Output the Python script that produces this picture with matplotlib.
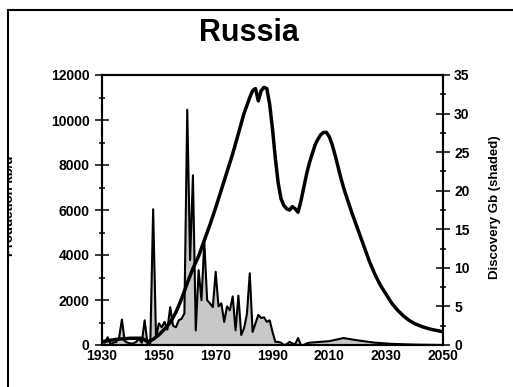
import numpy as np
import matplotlib
matplotlib.use("Agg")
import matplotlib.pyplot as plt
from matplotlib.patches import Rectangle
from matplotlib.ticker import MultipleLocator

plt.rcParams['font.family'] = ['Liberation Sans', 'DejaVu Sans']
plt.rcParams['font.weight'] = 'bold'

# production, kb/d (left axis)
prod_years = [1930, 1935, 1940, 1944, 1946, 1948, 1950, 1952, 1954, 1956, 1958,
              1960, 1962, 1964, 1966, 1968, 1970, 1972, 1974, 1976, 1978, 1980,
              1982, 1983, 1984, 1985, 1986, 1987, 1988, 1989, 1990, 1991, 1992,
              1993, 1994, 1995, 1996, 1997, 1998, 1999, 2000, 2001, 2002, 2003,
              2004, 2005, 2006, 2007, 2008, 2009, 2010, 2011, 2012, 2013, 2014,
              2015, 2016, 2018, 2020, 2022, 2024, 2026, 2028, 2030, 2032, 2034,
              2036, 2038, 2040, 2043, 2046, 2050]
prod_kbd = [150, 250, 300, 300, 150, 250, 450, 700, 1000, 1450, 2050,
            2750, 3400, 3950, 4650, 5350, 6100, 6900, 7700, 8500, 9400, 10300,
            11000, 11300, 11400, 10850, 11300, 11450, 11400, 10700, 9600, 8300, 7200,
            6500, 6200, 6050, 6000, 6150, 6050, 5900, 6400, 7000, 7600, 8100,
            8500, 8900, 9150, 9350, 9450, 9450, 9250, 8900, 8450, 7950, 7450,
            7000, 6600, 5850, 5150, 4450, 3750, 3150, 2650, 2250, 1850, 1550,
            1300, 1100, 950, 800, 690, 590]

# discoveries, Gb (right axis, shaded)
disc_years = list(range(1930, 2004)) + [2010, 2015, 2020, 2026, 2032, 2040, 2050]
disc_gb = [0.4, 0.3, 1.0, 0.1, 0.3, 0.4, 0.9, 3.3, 0.5, 0.3,
           0.2, 0.2, 0.4, 0.8, 0.3, 3.2, 0.2, 0.2, 17.6, 1.0,
           2.8, 2.3, 3.0, 2.0, 4.9, 2.5, 2.3, 3.2, 3.4, 4.1,
           30.5, 11.0, 22.0, 1.9, 9.7, 5.8, 13.4, 5.8, 5.4, 4.9,
           9.5, 5.0, 5.4, 3.0, 5.0, 4.5, 6.3, 1.9, 6.4, 1.3,
           2.2, 4.0, 9.3, 1.7, 2.8, 3.9, 3.5, 3.6, 3.0, 3.2,
           1.7, 0.4, 0.4, 0.3, 0.0, 0.1, 0.4, 0.2, 0.1, 0.9,
           0.0, 0.0, 0.2, 0.3,
           0.5, 0.9, 0.6, 0.3, 0.15, 0.05, 0.0]

x_ticks = [1930, 1950, 1970, 1990, 2010, 2030, 2050]

W, H = 513, 387
fig = plt.figure(figsize=(W / 100, H / 100), dpi=100)

ax1 = fig.add_axes([102 / W, 1 - 345 / H, 341 / W, 270 / H])
ax2 = ax1.twinx()
ax1.set_zorder(ax2.get_zorder() + 1)
ax1.patch.set_visible(False)

ax2.fill_between(disc_years, disc_gb, 0, color='#c8c8c8', lw=0)
ax2.plot(disc_years, disc_gb, color='black', lw=1.5)
ax1.plot(prod_years, prod_kbd, color='black', lw=2.5, solid_joinstyle='round')

ax1.set_xlim(1930, 2050)
ax1.set_ylim(0, 12000)
ax2.set_ylim(0, 35)
ax1.set_xticks(x_ticks)
ax1.yaxis.set_major_locator(MultipleLocator(2000))
ax1.yaxis.set_minor_locator(MultipleLocator(1000))
ax2.yaxis.set_major_locator(MultipleLocator(5))
ax2.yaxis.set_minor_locator(MultipleLocator(2.5))

for a in (ax1, ax2):
    for s in a.spines.values():
        s.set_linewidth(1.5)
ax1.tick_params(axis='x', length=0, pad=3, labelsize=10)
ax1.tick_params(axis='y', which='major', direction='inout', length=10, width=1.1, pad=4, labelsize=10)
ax1.tick_params(axis='y', which='minor', direction='inout', length=5, width=1.1)
ax2.tick_params(axis='y', which='major', direction='inout', length=10, width=1.1, pad=3, labelsize=10)
ax2.tick_params(axis='y', which='minor', direction='inout', length=5, width=1.1)

fig.text(249 / W, 1 - 33 / H, 'Russia', ha='center', va='center', fontsize=22, fontweight='bold')
fig.text(495 / W, 1 - 207 / H, 'Discovery Gb (shaded)', rotation=90, ha='center', va='center',
         fontsize=9.5, fontweight='bold')
fig.text(10.5 / W, 1 - 206 / H, 'Production kb/d', rotation=90, ha='center', va='center',
         fontsize=9.5, fontweight='bold')

# slide frame, clipping the left label
fig.patches.append(Rectangle((0, 0), 8 / W, 1, transform=fig.transFigure,
                             facecolor='white', edgecolor='none', zorder=10))
fig.patches.append(Rectangle((8 / W, -0.1), 1.0, 1 - 10 / H + 0.1, transform=fig.transFigure,
                             facecolor='none', edgecolor='black', lw=1.5, zorder=11))

fig.savefig('out.png', dpi=100)
